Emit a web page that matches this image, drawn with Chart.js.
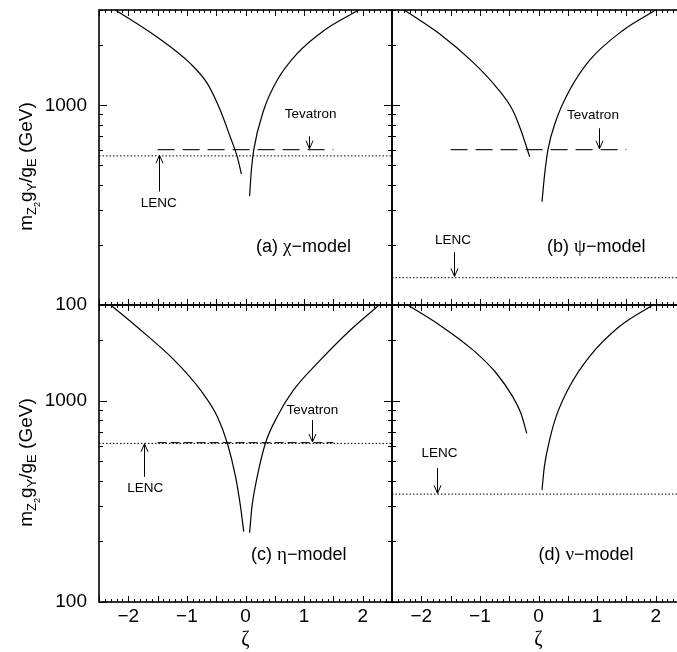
<!DOCTYPE html>
<html>
<head>
<meta charset="utf-8">
<script src="https://cdn.jsdelivr.net/npm/chart.js@4.4.1/dist/chart.umd.min.js"></script>
<style>
html, body { margin: 0; padding: 0; background: #fff; overflow: hidden; }
#wrap { position: relative; width: 677px; height: 652px; overflow: hidden; }
#wrap canvas { position: absolute; left: 0; top: 0; }
</style>
</head>
<body>
<div id="wrap">
  <canvas id="chiChart" width="700" height="652"></canvas>
  <canvas id="psiChart" width="700" height="652"></canvas>
  <canvas id="etaChart" width="700" height="652"></canvas>
  <canvas id="nuChart" width="700" height="652"></canvas>
</div>
<script>
// axes
const zetaRange = [-2.5, 2.5];
const massRange = [100, 3000];
const xTickLabels = [-2, -1, 0, 1, 2];
const yTickLabels = [100, 1000];
const yMinorTicks = [200, 300, 400, 500, 600, 700, 800, 900, 2000, 3000];

// (a) chi-model
const chiLeftZeta = [-2.22, -1.51, -0.94, -0.65, -0.43, -0.26, -0.14, -0.07];
const chiLeftMass = [3000, 2196, 1616, 1283, 944, 694, 552, 452];
const chiRightZeta = [0.07, 0.10, 0.14, 0.31, 0.54, 0.88, 1.34, 1.93];
const chiRightMass = [351, 473, 596, 944, 1334, 1813, 2371, 3000];

// (b) psi-model
const psiLeftZeta = [-2.29, -1.69, -1.12, -0.72, -0.44, -0.30, -0.15];
const psiLeftMass = [3000, 2283, 1646, 1234, 944, 750, 552];
const psiRightZeta = [0.06, 0.10, 0.16, 0.30, 0.53, 0.87, 1.44, 2.0];
const psiRightMass = [329, 438, 596, 841, 1189, 1679, 2371, 3000];

// (c) eta-model
const etaLeftZeta = [-2.30, -1.79, -1.22, -0.77, -0.48, -0.31, -0.17, -0.085, -0.03];
const etaLeftMass = [3000, 2254, 1600, 1134, 835, 616, 420, 298, 224];
const etaRightZeta = [0.07, 0.11, 0.20, 0.34, 0.54, 0.82, 1.28, 1.79, 2.28];
const etaRightMass = [221, 298, 420, 616, 835, 1134, 1600, 2254, 3000];

// (d) nu-model
const nuLeftZeta = [-2.23, -1.69, -1.12, -0.72, -0.44, -0.30, -0.20];
const nuLeftMass = [3000, 2388, 1794, 1373, 1050, 868, 690];
const nuRightZeta = [0.06, 0.10, 0.19, 0.30, 0.53, 0.87, 1.38, 1.95];
const nuRightMass = [361, 471, 640, 835, 1179, 1662, 2343, 3000];

// bounds (GeV)
const tevatronZeta = [-1.5, 1.5];
const tevatronMass = [600, 600, 620, null];   // a, b, c, d
const lencMass = [558, 137, 615, 344];        // a, b, c, d

const SANS = '"Liberation Sans", Arial, Helvetica, sans-serif';
const SERIF = '"Liberation Serif", "Times New Roman", serif';

function pts(xs, ys) {
    return xs.map((x, i) => ({ x: x, y: ys[i] }));
}

// draws a list of text pieces one after the other
function richText(ctx, parts, x, y, align) {
    let w = 0;
    parts.forEach(p => { ctx.font = p.font; w += ctx.measureText(p.t).width; });
    let cx = align === 'center' ? x - w / 2 : x;
    ctx.textAlign = 'left';
    parts.forEach(p => {
        ctx.font = p.font;
        ctx.fillText(p.t, cx, y + (p.dy || 0));
        cx += ctx.measureText(p.t).width;
    });
}

function arrow(ctx, x, y1, y2) {
    const dir = y2 > y1 ? 1 : -1;
    ctx.beginPath();
    ctx.moveTo(x, y1);
    ctx.lineTo(x, y2);
    ctx.moveTo(x - 3.5, y2 - dir * 8);
    ctx.lineTo(x, y2);
    ctx.lineTo(x + 3.5, y2 - dir * 8);
    ctx.stroke();
}

const framePlugin = {
    id: 'frame',
    afterDraw(chart, args, opts) {
        const ctx = chart.ctx;
        const a = chart.chartArea;
        const xs = chart.scales.x, ys = chart.scales.y;
        ctx.save();
        ctx.strokeStyle = '#000';
        ctx.fillStyle = '#000';

        // frame
        ctx.lineWidth = 1.6;
        ctx.strokeRect(a.left, a.top, a.right - a.left, a.bottom - a.top);

        // x ticks, every 0.1 with longer ones every 0.5
        ctx.lineWidth = 1;
        ctx.beginPath();
        for (let k = -25; k <= 25; k++) {
            const px = Math.round(xs.getPixelForValue(k / 10)) + 0.5;
            const len = k % 5 === 0 ? 6 : 3;
            ctx.moveTo(px, a.top); ctx.lineTo(px, a.top + len);
            ctx.moveTo(px, a.bottom); ctx.lineTo(px, a.bottom - len);
        }
        // y ticks
        yTickLabels.concat(yMinorTicks).forEach(v => {
            const py = Math.round(ys.getPixelForValue(v)) + 0.5;
            const len = yTickLabels.includes(v) ? 8 : 4;
            ctx.moveTo(a.left, py); ctx.lineTo(a.left + len, py);
            ctx.moveTo(a.right, py); ctx.lineTo(a.right - len, py);
        });
        ctx.stroke();

        // tick labels
        ctx.font = '19px ' + SANS;
        if (opts.yLabels) {
            ctx.textAlign = 'right';
            ctx.textBaseline = 'middle';
            yTickLabels.forEach(v => ctx.fillText(String(v), a.left - 12, ys.getPixelForValue(v)));
            ctx.save();
            ctx.translate(32, (a.top + a.bottom) / 2 + 9);
            ctx.rotate(-Math.PI / 2);
            ctx.textBaseline = 'alphabetic';
            const big = '19px ' + SANS, sub = '13px ' + SANS, sub2 = '9px ' + SANS;
            richText(ctx, [
                { t: 'm', font: big }, { t: 'Z', font: sub, dy: 4 }, { t: '2', font: sub2, dy: 8 },
                { t: 'g', font: big }, { t: 'Y', font: sub, dy: 4 },
                { t: '/g', font: big }, { t: 'E', font: sub, dy: 4 },
                { t: ' (GeV)', font: big }
            ], 0, 0, 'center');
            ctx.restore();
        }
        if (opts.xLabels) {
            ctx.textAlign = 'center';
            ctx.textBaseline = 'middle';
            ctx.font = '19px ' + SANS;
            xTickLabels.forEach(v => ctx.fillText(v < 0 ? '\u2212' + (-v) : String(v), xs.getPixelForValue(v), a.bottom + 15));
            ctx.font = '20px ' + SERIF;
            ctx.fillText('\u03b6', xs.getPixelForValue(0), a.bottom + 38);
        }

        // annotations
        ctx.textBaseline = 'middle';
        ctx.textAlign = 'center';
        ctx.font = '13.5px ' + SANS;
        opts.notes.forEach(n => ctx.fillText(n.text, xs.getPixelForValue(n.x), ys.getPixelForValue(n.y)));
        ctx.lineWidth = 1;
        opts.arrows.forEach(r => {
            const px = Math.round(xs.getPixelForValue(r.x)) + 0.5;
            arrow(ctx, px, ys.getPixelForValue(r.from), ys.getPixelForValue(r.to));
        });
        richText(ctx, [
            { t: opts.model[0], font: '18px ' + SANS },
            { t: opts.model[1], font: '19px ' + SERIF },
            { t: '\u2212model', font: '18px ' + SANS }
        ], xs.getPixelForValue(opts.modelAt[0]), ys.getPixelForValue(opts.modelAt[1]), 'center');
        ctx.restore();
    }
};

function curve(data) {
    return {
        data: data, borderColor: '#000', borderWidth: 1.2, pointRadius: 0,
        cubicInterpolationMode: 'monotone', fill: false
    };
}

function makePanel(id, pad, i, leftZ, leftM, rightZ, rightM, extra) {
    const datasets = [curve(pts(leftZ, leftM)), curve(pts(rightZ, rightM))];
    if (tevatronMass[i] !== null) {
        datasets.push({
            data: pts(tevatronZeta, [tevatronMass[i], tevatronMass[i]]),
            borderColor: '#222', borderWidth: 1.2, pointRadius: 0,
            borderDash: i === 2 ? [9, 4] : [17, 8]
        });
    }
    datasets.push({
        data: pts(zetaRange, [lencMass[i], lencMass[i]]),
        borderColor: '#000', borderWidth: 1, pointRadius: 0, borderDash: [1.5, 2]
    });
    new Chart(document.getElementById(id), {
        type: 'line',
        data: { datasets: datasets },
        options: {
            responsive: false,
            animation: false,
            events: [],
            layout: { padding: pad },
            scales: {
                x: { type: 'linear', min: zetaRange[0], max: zetaRange[1], display: false },
                y: { type: 'logarithmic', min: massRange[0], max: massRange[1], display: false }
            },
            plugins: { legend: { display: false }, tooltip: { enabled: false }, frame: extra }
        },
        plugins: [framePlugin]
    });
}

makePanel('chiChart', { left: 99, top: 10, right: 308, bottom: 347 }, 0,
    chiLeftZeta, chiLeftMass, chiRightZeta, chiRightMass, {
        yLabels: true, xLabels: false,
        notes: [{ text: 'Tevatron', x: 1.11, y: 905 }, { text: 'LENC', x: -1.48, y: 324 }],
        arrows: [{ x: 1.08, from: 700, to: 606 }, { x: -1.48, from: 370, to: 562 }],
        model: ['(a) ', '\u03c7'], modelAt: [0.99, 195]
    });
makePanel('psiChart', { left: 392, top: 10, right: 15, bottom: 347 }, 1,
    psiLeftZeta, psiLeftMass, psiRightZeta, psiRightMass, {
        yLabels: false, xLabels: false,
        notes: [{ text: 'Tevatron', x: 0.93, y: 891 }, { text: 'LENC', x: -1.46, y: 211 }],
        arrows: [{ x: 1.04, from: 767, to: 606 }, { x: -1.45, from: 184, to: 139 }],
        model: ['(b) ', '\u03c8'], modelAt: [0.985, 196]
    });
makePanel('etaChart', { left: 99, top: 305, right: 308, bottom: 50 }, 2,
    etaLeftZeta, etaLeftMass, etaRightZeta, etaRightMass, {
        yLabels: true, xLabels: true,
        notes: [{ text: 'Tevatron', x: 1.14, y: 902 }, { text: 'LENC', x: -1.71, y: 368 }],
        arrows: [{ x: 1.14, from: 804, to: 625 }, { x: -1.74, from: 419, to: 612 }],
        model: ['(c) ', '\u03b7'], modelAt: [0.91, 171]
    });
makePanel('nuChart', { left: 392, top: 305, right: 15, bottom: 50 }, 3,
    nuLeftZeta, nuLeftMass, nuRightZeta, nuRightMass, {
        yLabels: false, xLabels: true,
        notes: [{ text: 'LENC', x: -1.69, y: 549 }],
        arrows: [{ x: -1.73, from: 464, to: 347 }],
        model: ['(d) ', '\u03bd'], modelAt: [0.81, 171]
    });
</script>
</body>
</html>
